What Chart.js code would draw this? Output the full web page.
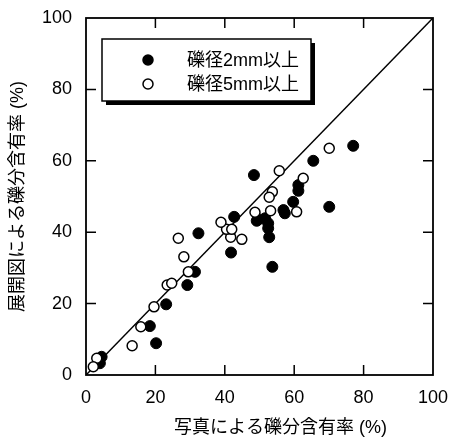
<!DOCTYPE html>
<html><head><meta charset="utf-8">
<script src="https://cdn.jsdelivr.net/npm/chart.js@4"></script>
<style>html,body{margin:0;padding:0;background:#fff;}#wrap{width:454px;height:439px;}</style>
</head><body><div id="wrap"><canvas id="c" width="454" height="439"></canvas></div>
<script>
const FONT = "'Liberation Sans', 'Noto Sans CJK JP', sans-serif";
const xTitle = "写真による礫分含有率 (%)";
const yTitle = "展開図による礫分含有率 (%)";
const seriesLabels = ["礫径2mm以上", "礫径5mm以上"];
const tickValues = [0, 20, 40, 60, 80, 100];

// 礫径2mm以上 (filled)
const gravel2X = [48.4, 61.2, 61.2, 59.7, 56.9, 57.3, 70.1, 49.7, 51.6, 52.5, 52.5, 52.8, 53.7, 65.5, 77.0, 42.7, 41.8, 32.4, 31.4, 29.2, 23.1, 18.4, 20.2, 4.5, 4.0, 49.2];
const gravel2Y = [56.0, 53.2, 51.6, 48.5, 46.2, 45.3, 47.1, 43.6, 43.9, 42.5, 41.1, 38.6, 30.3, 60.0, 64.2, 44.3, 34.3, 39.7, 28.9, 25.2, 19.8, 13.7, 8.9, 5.1, 3.3, 43.2];
// 礫径5mm以上 (open)
const gravel5X = [55.7, 70.1, 62.6, 53.7, 52.8, 60.7, 48.7, 53.2, 44.9, 41.7, 40.5, 42.0, 38.9, 26.6, 28.2, 29.5, 23.4, 24.7, 19.6, 15.8, 13.3, 3.1, 2.1];
const gravel5Y = [57.2, 63.5, 55.1, 51.3, 49.8, 45.7, 45.6, 46.0, 38.0, 38.6, 40.8, 40.8, 42.8, 38.3, 33.1, 28.9, 25.2, 25.7, 19.1, 13.5, 8.2, 4.7, 2.3];
const diagX = [0, 100];
const diagY = [0, 100];

const zip = (xs, ys) => xs.map((x, i) => ({x, y: ys[i]}));

const framePlugin = {
  id: 'frame',
  afterDatasetsDraw(chart) {
    const ctx = chart.ctx, a = chart.chartArea;
    const xs = chart.scales.x, ys = chart.scales.y;
    ctx.save();
    ctx.strokeStyle = '#000';
    ctx.lineWidth = 1.8;
    ctx.strokeRect(a.left, a.top, a.right - a.left, a.bottom - a.top);
    ctx.lineWidth = 1.5;
    const tl = 10;
    ctx.beginPath();
    tickValues.slice(1, -1).forEach(v => {
      const px = xs.getPixelForValue(v);
      ctx.moveTo(px, a.bottom); ctx.lineTo(px, a.bottom - tl);
      ctx.moveTo(px, a.top); ctx.lineTo(px, a.top + tl);
      const py = ys.getPixelForValue(v);
      ctx.moveTo(a.left, py); ctx.lineTo(a.left + tl, py);
      ctx.moveTo(a.right, py); ctx.lineTo(a.right - tl, py);
    });
    ctx.stroke();
    ctx.restore();
  },
  afterDraw(chart) {
    const ctx = chart.ctx, a = chart.chartArea;
    // x-axis title (offset right of the axis centre, as in the source figure)
    ctx.save();
    ctx.fillStyle = '#000';
    ctx.font = "18px " + FONT;
    ctx.textAlign = 'center';
    ctx.textBaseline = 'middle';
    ctx.fillText(xTitle, (a.left + a.right) / 2 + 21, a.bottom + 53);
    ctx.restore();
    // legend
    const bx = a.left + 16, by = a.top + 21, bw = 209, bh = 62;
    ctx.save();
    ctx.fillStyle = '#000';
    ctx.fillRect(bx + 4, by + 4, bw, bh);
    ctx.fillStyle = '#fff';
    ctx.fillRect(bx, by, bw, bh);
    ctx.strokeStyle = '#000';
    ctx.lineWidth = 1.5;
    ctx.strokeRect(bx, by, bw, bh);
    const rows = [by + 21, by + 45];
    chart.data.datasets.slice(0, 2).forEach((ds, i) => {
      ctx.beginPath();
      ctx.arc(bx + 46, rows[i], 5, 0, Math.PI * 2);
      ctx.fillStyle = ds.backgroundColor;
      ctx.fill();
      ctx.lineWidth = 1.5;
      ctx.strokeStyle = '#000';
      ctx.stroke();
      ctx.fillStyle = '#000';
      ctx.font = "18px " + FONT;
      ctx.textBaseline = 'middle';
      ctx.textAlign = 'left';
      ctx.fillText(ds.label, bx + 85, rows[i] + 1);
    });
    ctx.restore();
  }
};

const zeroPad = s => { s.paddingLeft = 0; s.paddingRight = 0; s.paddingTop = 0; s.paddingBottom = 0; };

new Chart(document.getElementById('c'), {
  type: 'scatter',
  data: {
    datasets: [
      {label: seriesLabels[0], data: zip(gravel2X, gravel2Y), backgroundColor: '#000', borderColor: '#000', borderWidth: 1, pointRadius: 5.5, order: 1},
      {label: seriesLabels[1], data: zip(gravel5X, gravel5Y), backgroundColor: '#fff', borderColor: '#000', borderWidth: 1.5, pointRadius: 5, order: 0},
      {label: 'diag', type: 'line', data: zip(diagX, diagY), borderColor: '#000', borderWidth: 1.5, pointRadius: 0, fill: false, order: 2}
    ]
  },
  options: {
    responsive: false,
    animation: false,
    layout: {padding: {top: 18, right: 21, left: 0, bottom: 0}},
    plugins: {legend: {display: false}, tooltip: {enabled: false}},
    scales: {
      x: {
        type: 'linear', min: 0, max: 100,
        afterBuildTicks: s => { s.ticks = tickValues.map(v => ({value: v})); },
        afterFit: s => { s.height = 64; zeroPad(s); },
        grid: {display: false, drawTicks: false},
        border: {display: false},
        ticks: {color: '#000', padding: 12, font: {family: FONT, size: 18}, maxRotation: 0},
        title: {display: false, text: xTitle}
      },
      y: {
        type: 'linear', min: 0, max: 100,
        afterBuildTicks: s => { s.ticks = tickValues.map(v => ({value: v})); },
        afterFit: s => { s.width = 86; zeroPad(s); },
        grid: {display: false, drawTicks: false},
        border: {display: false},
        ticks: {color: '#000', padding: 14, font: {family: FONT, size: 18}},
        title: {display: true, text: yTitle, color: '#000', font: {family: FONT, size: 18}, padding: {top: 7, bottom: 0}}
      }
    }
  },
  plugins: [framePlugin]
});
</script></body></html>
